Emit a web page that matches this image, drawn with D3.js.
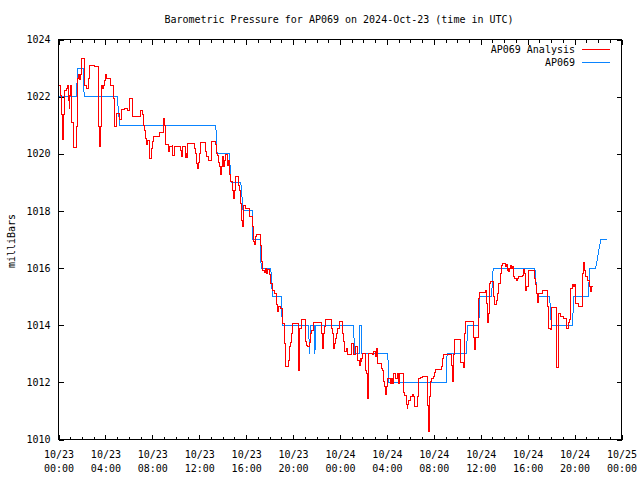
<!DOCTYPE html>
<html><head><meta charset="utf-8">
<script src="https://cdn.jsdelivr.net/npm/d3@7"></script>
<style>
html,body{margin:0;padding:0;background:#fff;}
svg{display:block;}
text{font-family:"DejaVu Sans Mono",monospace;font-size:10px;fill:#000;}
</style></head><body>
<svg id="chart" width="640" height="480"></svg>
<script>
const title = "Barometric Pressure for AP069 on 2024-Oct-23 (time in UTC)";
const yLabel = "milliBars";
const seriesNames = ["AP069 Analysis", "AP069"];
const seriesColors = ["#ff0000", "#0a84ff"];
const startTime = "2024-10-23T00:00:00Z";
const endTime = "2024-10-25T00:00:00Z";
const yTickValues = [1010, 1012, 1014, 1016, 1018, 1020, 1022, 1024];

// AP069 Analysis: hours since start, values (mb)
const analysisHours = [
0.00,0.17,0.26,0.31,0.39,0.48,0.54,0.68,0.73,0.82,0.91,0.96,1.02,1.11,1.25,1.54,1.59,1.67,1.76,1.84,
1.96,2.19,2.25,2.39,2.53,2.61,2.67,3.04,3.38,3.44,3.53,3.61,3.67,3.76,3.87,3.95,4.04,4.12,4.47,4.70,
4.75,4.95,5.23,5.38,5.66,5.92,6.09,6.29,7.03,7.14,7.22,7.37,7.43,7.51,7.60,7.74,7.80,7.94,7.99,8.08,
8.65,8.93,9.02,9.08,9.16,9.36,9.45,9.68,9.76,9.85,10.42,10.50,10.59,10.79,10.87,10.93,10.98,11.58,11.70,11.78,
11.84,11.96,12.01,12.07,12.55,12.64,12.78,13.01,13.35,13.43,13.49,13.58,13.63,13.69,13.77,13.83,13.92,13.97,14.06,14.14,
14.20,14.43,14.48,14.57,14.60,14.63,14.82,14.91,14.97,15.06,15.34,15.42,15.48,15.57,15.63,15.71,15.76,15.97,16.28,16.57,
16.62,16.70,16.76,16.85,17.19,17.28,17.34,17.42,17.53,17.62,17.76,17.85,17.98,18.10,18.27,18.39,18.56,18.67,18.75,18.90,
19.09,19.24,19.32,19.60,19.67,19.75,19.90,19.95,20.46,20.52,20.69,21.03,21.09,21.18,21.26,21.37,21.46,21.55,21.74,22.46,
22.51,22.60,22.68,22.74,23.31,23.36,23.45,23.54,23.60,23.68,23.77,23.96,24.25,24.30,24.39,24.59,24.65,24.96,25.16,25.36,
25.45,25.50,25.64,25.73,25.82,25.87,25.93,26.16,26.24,26.35,26.39,26.81,26.87,27.01,27.07,27.16,27.58,27.63,27.75,27.81,
27.87,27.93,28.06,28.29,28.38,28.44,28.52,28.72,28.86,29.00,29.09,29.43,29.51,29.63,29.72,29.77,29.85,30.00,30.14,30.28,
30.34,30.57,30.66,30.71,30.85,31.00,31.43,31.48,31.51,31.62,31.71,31.77,31.99,32.05,32.14,32.62,32.71,32.76,32.79,33.48,
33.56,33.61,33.65,33.78,34.27,34.55,34.61,34.70,35.41,35.49,35.58,35.78,35.89,36.40,36.49,36.55,36.60,36.69,36.75,36.84,
37.11,37.20,37.32,37.40,37.49,37.54,37.69,37.77,37.83,38.11,38.20,38.25,38.34,38.39,38.48,38.54,38.63,38.69,38.77,38.88,
39.05,39.11,39.25,39.54,39.68,39.76,39.82,39.93,40.05,40.10,40.61,40.67,40.76,40.82,40.93,41.24,41.67,41.76,41.96,42.02,
42.44,42.49,42.61,42.81,43.09,43.30,43.46,43.58,43.67,43.81,43.95,44.03,44.09,44.37,44.66,44.80,44.86,44.95,45.09,45.23,
45.31,45.37,45.43,45.60
];
const analysisValues = [
1022.40,1022.05,1021.36,1020.50,1021.36,1022.05,1022.20,1022.30,1022.40,1021.85,1021.60,1022.05,1022.40,1021.10,1020.22,1020.95,1022.64,1022.76,1022.60,1022.76,
1023.34,1023.00,1022.40,1022.30,1022.64,1022.95,1023.10,1023.05,1022.40,1020.95,1020.25,1020.95,1022.40,1022.30,1022.40,1022.58,1022.78,1022.64,1022.40,1021.94,
1020.95,1021.40,1021.20,1021.55,1021.60,1021.50,1021.94,1021.30,1021.53,1021.36,1021.00,1020.83,1020.54,1020.31,1020.45,1020.07,1019.84,1020.20,1020.42,1020.60,
1020.75,1021.22,1021.00,1020.54,1020.31,1020.07,1020.25,1020.30,1019.95,1020.27,1020.10,1019.90,1020.27,1019.88,1020.00,1019.88,1020.37,1020.19,1020.00,1019.67,
1019.50,1019.70,1020.00,1020.40,1020.07,1019.90,1019.78,1020.42,1020.31,1020.20,1020.00,1019.95,1019.70,1019.55,1019.43,1019.26,1019.55,1019.90,1019.55,1019.75,
1019.96,1019.60,1019.75,1019.60,1019.26,1019.02,1018.73,1018.44,1018.73,1019.20,1018.90,1018.73,1018.27,1018.03,1017.68,1017.45,1018.20,1018.09,1017.80,1017.45,
1016.92,1016.81,1017.10,1017.19,1016.80,1016.52,1016.22,1015.93,1015.85,1016.00,1015.82,1015.95,1015.76,1015.47,1015.23,1015.10,1014.71,1014.47,1014.65,1014.59,
1014.07,1013.37,1012.55,1012.78,1013.25,1013.39,1013.72,1014.07,1012.43,1013.89,1014.20,1013.90,1013.42,1013.30,1013.25,1013.40,1013.72,1013.83,1014.09,1013.72,
1013.19,1013.72,1013.97,1014.20,1013.90,1013.72,1013.19,1013.37,1013.55,1013.72,1013.89,1014.12,1013.72,1013.42,1013.07,1013.19,1012.96,1013.37,1012.96,1013.25,
1012.90,1012.78,1012.60,1012.85,1012.73,1012.85,1013.00,1012.43,1012.30,1011.44,1013.02,1012.96,1013.07,1012.90,1013.19,1012.67,1012.50,1012.43,1012.02,1011.87,
1011.56,1011.87,1012.14,1011.97,1012.14,1011.97,1012.32,1012.14,1012.32,1011.97,1012.32,1011.64,1011.55,1011.24,1011.10,1011.24,1011.38,1011.50,1011.59,1011.50,
1011.17,1011.50,1011.97,1012.14,1012.18,1012.22,1012.00,1011.20,1010.27,1011.50,1012.02,1012.14,1012.20,1012.34,1012.46,1012.55,1012.63,1012.84,1012.99,1012.60,
1012.20,1012.02,1012.99,1013.50,1012.69,1012.53,1013.72,1014.12,1013.58,1013.16,1013.58,1014.94,1015.14,1015.20,1014.77,1014.42,1014.09,1014.42,1015.47,1015.52,
1015.00,1014.71,1014.85,1015.12,1015.30,1015.47,1015.82,1016.10,1016.17,1016.07,1016.12,1015.93,1016.00,1015.87,1016.00,1016.09,1015.98,1016.05,1015.72,1015.62,
1015.56,1015.64,1015.70,1015.75,1015.96,1015.80,1015.23,1015.35,1015.87,1015.93,1015.65,1015.41,1015.12,1014.79,1015.12,1015.23,1014.65,1013.89,1013.86,1014.63,
1013.66,1012.53,1014.42,1014.30,1014.25,1013.89,1014.10,1014.20,1015.29,1015.41,1015.35,1015.41,1014.77,1014.65,1015.82,1016.19,1015.93,1015.70,1015.58,1015.41,
1015.35,1015.17,1015.35,1015.35
];

// AP069 observations: hours since start, values (mb)
const obsHours = [
0.00,1.54,1.62,2.10,2.19,5.00,5.09,5.23,13.41,13.52,14.57,14.71,15.54,15.74,16.51,16.57,17.19,17.28,18.10,18.24,
18.98,19.09,21.32,21.40,21.49,21.80,21.86,21.94,25.16,25.24,25.64,25.67,25.81,25.87,28.08,28.14,33.05,33.13,34.76,34.91,
35.83,35.92,36.92,37.06,40.61,40.82,41.87,42.02,43.81,43.94,45.17,45.29,45.80,46.23,46.80
];
const obsValues = [
1022,1022,1023,1023,1022,1022,1021.6,1021,1021,1020,1020,1019,1019,1018,1018,1017,1017,1016,1016,1015,
1015,1014,1014,1013,1014,1014,1013,1014,1014,1013,1013,1014,1014,1013,1013,1012,1012,1013,1013,1014,
1014,1015,1015,1016,1016,1015,1015,1014,1014,1015,1015,1016,1016,1017,1017
];

const mLeft = 58.5, mRight = 621.5, mTop = 39.5, mBottom = 439.5;
const t0 = new Date(startTime), t1 = new Date(endTime);
const toDate = h => new Date(t0.getTime() + h * 3600e3);

const svg = d3.select("#chart");
const x = d3.scaleUtc().domain([t0, t1]).range([mLeft, mRight]);
const y = d3.scaleLinear().domain([1010, 1024]).range([mBottom, mTop]);

const fmtDate = d3.utcFormat("%m/%d"), fmtTime = d3.utcFormat("%H:%M");

// minor x ticks (bottom & top)
svg.append("g").attr("transform", `translate(0,${mBottom})`)
  .call(d3.axisBottom(x).ticks(d3.utcHour.every(1)).tickSizeInner(-3).tickSizeOuter(0).tickFormat(""))
  .call(g => g.select(".domain").remove());
svg.append("g").attr("transform", `translate(0,${mTop})`)
  .call(d3.axisTop(x).ticks(d3.utcHour.every(1)).tickSizeInner(-3).tickSizeOuter(0).tickFormat(""))
  .call(g => g.select(".domain").remove());

// major x ticks
svg.append("g").attr("transform", `translate(0,${mBottom})`)
  .call(d3.axisBottom(x).ticks(d3.utcHour.every(4)).tickSizeInner(-5).tickSizeOuter(0))
  .call(g => g.select(".domain").remove())
  .call(g => g.selectAll(".tick text").each(function(d){
      const t = d3.select(this).text(null).attr("y", null).attr("dy", null);
      t.append("tspan").attr("x", 0).attr("y", 18).text(fmtDate(d));
      t.append("tspan").attr("x", 0).attr("y", 32).text(fmtTime(d));
  }));
svg.append("g").attr("transform", `translate(0,${mTop})`)
  .call(d3.axisTop(x).ticks(d3.utcHour.every(4)).tickSizeInner(-5).tickSizeOuter(0).tickFormat(""))
  .call(g => g.select(".domain").remove());

// y ticks
svg.append("g").attr("transform", `translate(${mLeft},0)`)
  .call(d3.axisLeft(y).tickValues(yTickValues).tickSizeInner(-5).tickSizeOuter(0).tickPadding(8).tickFormat(d3.format("d")))
  .call(g => g.select(".domain").remove());
svg.append("g").attr("transform", `translate(${mRight},0)`)
  .call(d3.axisRight(y).tickValues(yTickValues).tickSizeInner(-5).tickSizeOuter(0).tickFormat(""))
  .call(g => g.select(".domain").remove());

svg.selectAll(".tick line").attr("shape-rendering", "crispEdges");

// border
svg.append("rect").attr("x", mLeft).attr("y", mTop).attr("width", mRight - mLeft).attr("height", mBottom - mTop)
  .attr("fill", "none").attr("stroke", "#000").attr("stroke-width", 1).attr("shape-rendering", "crispEdges");

// series
const obsData = obsHours.map((h, i) => [toDate(h), obsValues[i]]);
const anaData = analysisHours.map((h, i) => [toDate(h), analysisValues[i]]);

svg.append("path").datum(obsData)
  .attr("d", d3.line().x(d => x(d[0])).y(d => y(d[1])))
  .attr("fill", "none").attr("stroke", seriesColors[1]).attr("stroke-width", 1)
  .attr("shape-rendering", "crispEdges");
svg.append("path").datum(anaData)
  .attr("d", d3.line().curve(d3.curveStepAfter).x(d => x(d[0])).y(d => y(d[1])))
  .attr("fill", "none").attr("stroke", seriesColors[0]).attr("stroke-width", 1)
  .attr("shape-rendering", "crispEdges");

// title
svg.append("text").attr("x", 339).attr("y", 23).attr("text-anchor", "middle").text(title);

// y label
svg.append("text").attr("transform", "translate(15,241) rotate(-90)").attr("text-anchor", "middle").text(yLabel);

// legend
const legY = [49.5, 62.5];
seriesNames.forEach((name, i) => {
  svg.append("text").attr("x", 575).attr("y", legY[i] + 3.6).attr("text-anchor", "end").text(name);
  svg.append("line").attr("x1", 582).attr("x2", 610).attr("y1", legY[i]).attr("y2", legY[i])
    .attr("stroke", seriesColors[i]).attr("stroke-width", 1).attr("shape-rendering", "crispEdges");
});
</script>
</body></html>
